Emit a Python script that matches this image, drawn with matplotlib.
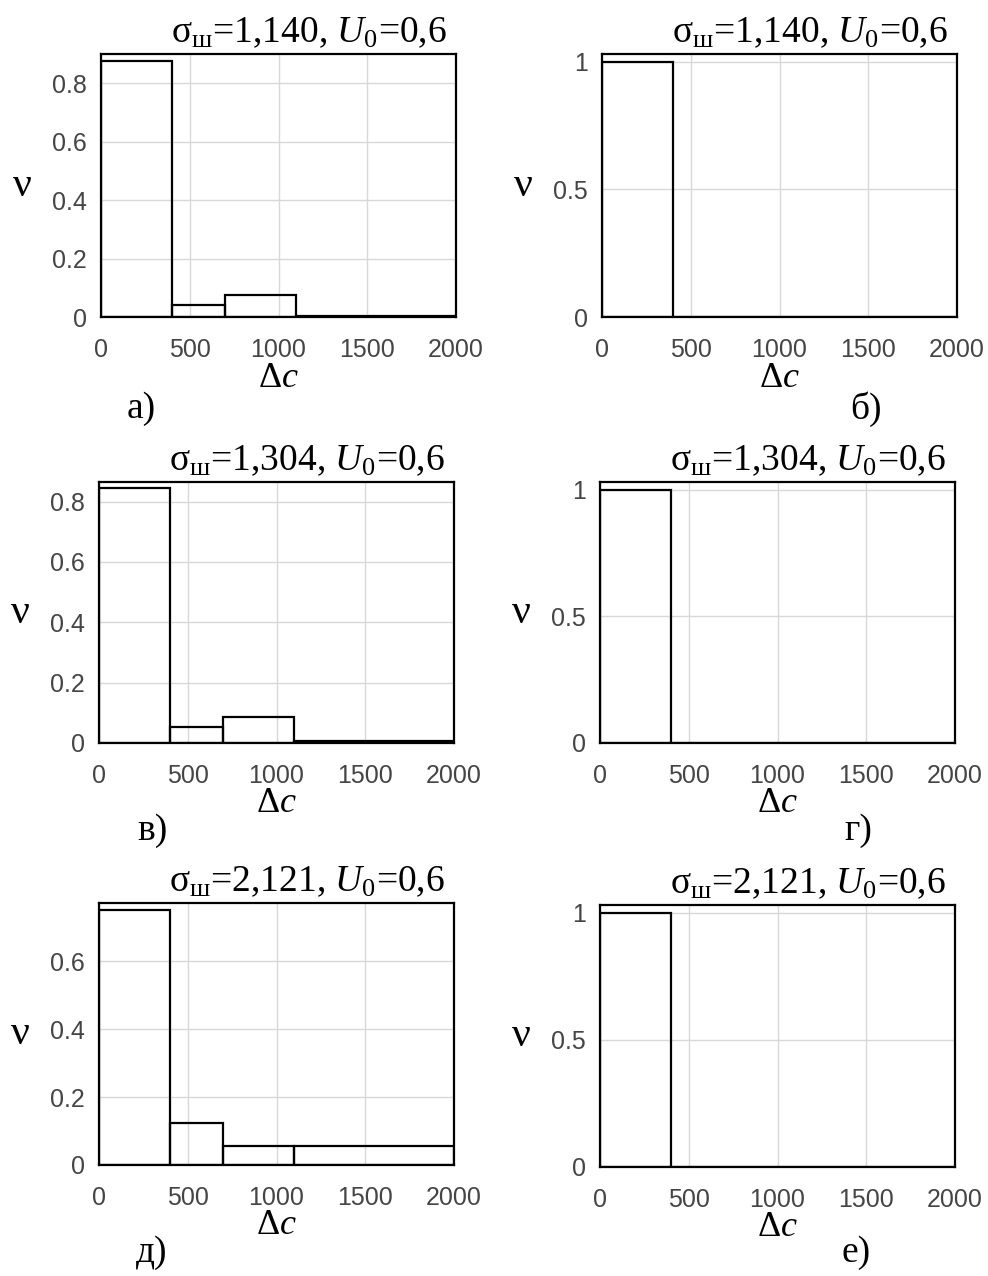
import numpy as np
import matplotlib
matplotlib.use("Agg")
import matplotlib.pyplot as plt

plt.rcParams['mathtext.fontset'] = 'custom'
plt.rcParams['mathtext.rm'] = 'Liberation Serif'
plt.rcParams['mathtext.it'] = 'Liberation Serif:italic'

####################
# DATA
####################
edges = [0, 400, 700, 1100, 2000]          # bin edges of Δc
nu_a = [0.875, 0.041, 0.075, 0.002]
nu_b = [1.0, 0.0, 0.0, 0.0]
nu_v = [0.846, 0.054, 0.086, 0.005]
nu_g = [1.0, 0.0, 0.0, 0.0]
nu_d = [0.752, 0.123, 0.057, 0.057]
nu_e = [1.0, 0.0, 0.0, 0.0]

sigmas = ["1,140", "1,140", "1,304", "1,304", "2,121", "2,121"]
letters = ["а)", "б)", "в)", "г)", "д)", "е)"]
xticks = [0, 500, 1000, 1500, 2000]
yticks_small = [0, 0.2, 0.4, 0.6, 0.8]
ytick_labels_small = ["0", "0.2", "0.4", "0.6", "0.8"]
yticks_one = [0, 0.5, 1]
ytick_labels_one = ["0", "0.5", "1"]

W, H = 988, 1276
fig = plt.figure(figsize=(W / 100, H / 100), dpi=100)

# panel boxes in pixels: left, top, right, bottom
boxes = [(101, 54, 456, 317), (602, 54, 957, 317),
         (99, 482, 454, 743), (600, 482, 955, 743),
         (99, 903, 454, 1165), (600, 905, 955, 1167)]
ytops = [0.9, 1.03, 0.865, 1.03, 0.772, 1.03]
values = [nu_a, nu_b, nu_v, nu_g, nu_d, nu_e]
letter_pos = [(141, 409), (866, 409), (152, 831), (858, 831), (152, 1253), (856, 1253)]

serif = 'Liberation Serif'
widths = np.diff(edges)

for i, (box, nu) in enumerate(zip(boxes, values)):
    l, t, r, b = box
    ax = fig.add_axes([l / W, 1 - b / H, (r - l) / W, (b - t) / H])
    ax.bar(edges[:-1], nu, width=widths, align='edge', fill=False,
           edgecolor='black', linewidth=1.6, zorder=3)
    ax.set_xlim(0, 2000)
    ax.set_ylim(0, ytops[i])
    ax.set_xticks(xticks)
    ax.set_xticklabels([str(x) for x in xticks])
    if i % 2 == 0:
        yt = [y for y in yticks_small if y <= ytops[i]]
        ax.set_yticks(yt)
        ax.set_yticklabels(ytick_labels_small[:len(yt)])
    else:
        ax.set_yticks(yticks_one)
        ax.set_yticklabels(ytick_labels_one)
    ax.grid(True, color='#d8d8d8', linewidth=1.0, zorder=0)
    ax.set_axisbelow(True)
    ax.tick_params(length=0, labelsize=18, labelcolor='#454545')
    ax.tick_params(axis='x', pad=15)
    ax.tick_params(axis='y', pad=10)
    for s in ax.spines.values():
        s.set_linewidth(1.6)
        s.set_color('black')
    for lab in ax.get_xticklabels() + ax.get_yticklabels():
        lab.set_family('Liberation Sans')

    h = b - t
    ax.text(1 - 9 / (r - l), 1 + 12 / h,
            'σ$_\\mathrm{ш}$=' + sigmas[i] + ', $U_\\mathrm{0}$=0,6',
            transform=ax.transAxes, ha='right', va='baseline',
            fontsize=27, family=serif)
    ax.text(0.5, -61 / h, 'Δ$c$', transform=ax.transAxes,
            ha='center', va='center', fontsize=26, family=serif)
    ax.text(-79 / (r - l), 0.5, 'ν', transform=ax.transAxes,
            ha='center', va='center', fontsize=30, family=serif)

    lx, ly = letter_pos[i]
    fig.text(lx / W, 1 - ly / H, letters[i], ha='center', va='center',
             fontsize=27, family=serif)

fig.savefig("out.png", dpi=100)
